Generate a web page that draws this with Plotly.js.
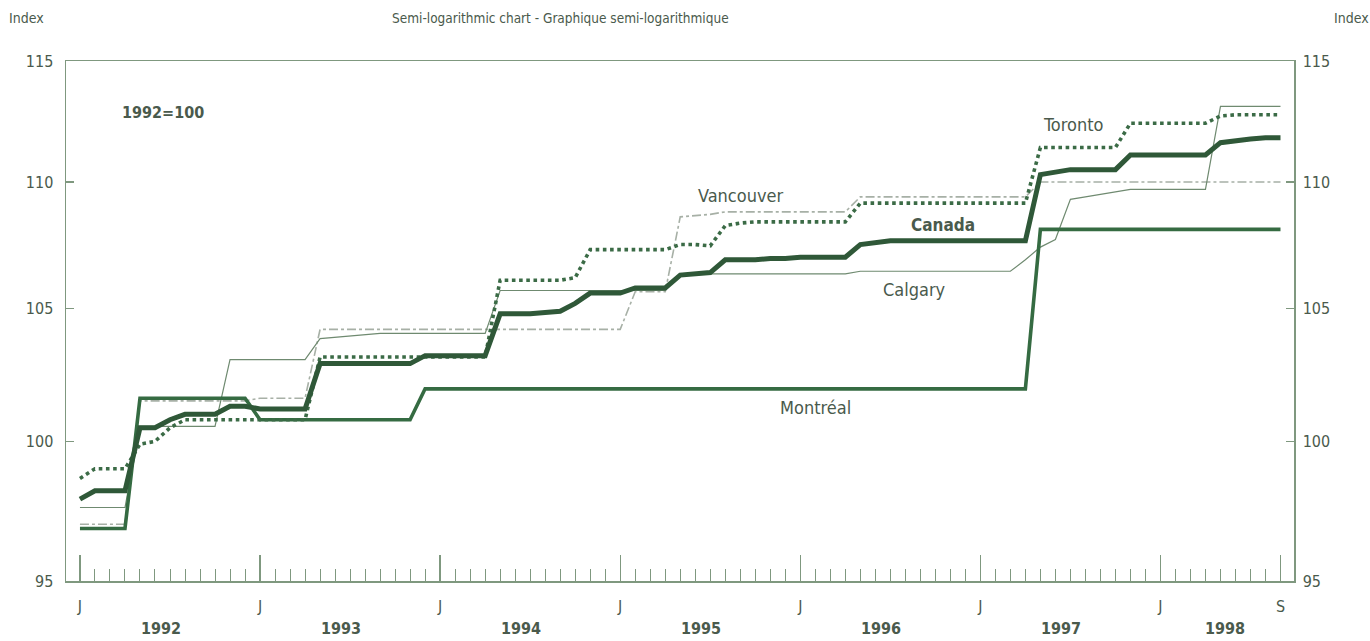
<!DOCTYPE html>
<html>
<head>
<meta charset="utf-8">
<script src="https://cdn.plot.ly/plotly-3.0.1.min.js"></script>
<style>
html,body{margin:0;padding:0;background:#fff;}
#chart{width:1370px;height:641px;}
</style>
</head>
<body>
<div id="chart"></div>
<script>
// Month index 0 = Jan 1992 ... 80 = Sep 1998
const nMonths = 81;

const canada = [
  97.9, 98.2, 98.2, 98.2, 100.5, 100.5, 100.8, 101.0, 101.0, 101.0, 101.3, 101.3,
  101.2, 101.2, 101.2, 101.2, 102.9, 102.9, 102.9, 102.9, 102.9, 102.9, 102.9, 103.2,
  103.2, 103.2, 103.2, 103.2, 104.8, 104.8, 104.8, 104.85, 104.9, 105.2, 105.6, 105.6,
  105.6, 105.8, 105.8, 105.8, 106.3, 106.35, 106.4, 106.9, 106.9, 106.9, 106.95, 106.95,
  107.0, 107.0, 107.0, 107.0, 107.5, 107.6, 107.65, 107.65, 107.65, 107.65, 107.65, 107.65,
  107.65, 107.65, 107.65, 107.65, 110.3, 110.4, 110.5, 110.5, 110.5, 110.5, 111.1, 111.1,
  111.1, 111.1, 111.1, 111.1, 111.6, 111.7, 111.75, 111.8, 111.8
];

const montreal = [
  96.85, 96.85, 96.85, 96.85, 101.6, 101.6, 101.6, 101.6, 101.6, 101.6, 101.6, 101.6,
  100.8, 100.8, 100.8, 100.8, 100.8, 100.8, 100.8, 100.8, 100.8, 100.8, 100.8, 101.95,
  101.95, 101.95, 101.95, 101.95, 101.95, 101.95, 101.95, 101.95, 101.95, 101.95, 101.95, 101.95,
  101.95, 101.95, 101.95, 101.95, 101.95, 101.95, 101.95, 101.95, 101.95, 101.95, 101.95, 101.95,
  101.95, 101.95, 101.95, 101.95, 101.95, 101.95, 101.95, 101.95, 101.95, 101.95, 101.95, 101.95,
  101.95, 101.95, 101.95, 101.95, 108.1, 108.1, 108.1, 108.1, 108.1, 108.1, 108.1, 108.1,
  108.1, 108.1, 108.1, 108.1, 108.1, 108.1, 108.1, 108.1, 108.1
];

const toronto = [
  98.65, 99.0, 99.0, 99.0, 99.9, 100.0, 100.5, 100.8, 100.8, 100.8, 100.8, 100.8,
  100.8, 100.8, 100.8, 100.8, 103.15, 103.15, 103.15, 103.15, 103.15, 103.15, 103.15, 103.15,
  103.15, 103.15, 103.15, 103.15, 106.1, 106.1, 106.1, 106.1, 106.1, 106.2, 107.3, 107.3,
  107.3, 107.3, 107.3, 107.3, 107.5, 107.5, 107.45, 108.25, 108.35, 108.4, 108.4, 108.4,
  108.4, 108.4, 108.4, 108.4, 109.15, 109.15, 109.15, 109.15, 109.15, 109.15, 109.15, 109.15,
  109.15, 109.15, 109.15, 109.15, 111.4, 111.4, 111.4, 111.4, 111.4, 111.4, 112.4, 112.4,
  112.4, 112.4, 112.4, 112.4, 112.7, 112.75, 112.75, 112.75, 112.75
];

const vancouver = [
  97.0, 97.0, 97.0, 97.0, 101.5, 101.5, 101.5, 101.5, 101.5, 101.5, 101.5, 101.5,
  101.6, 101.6, 101.6, 101.6, 104.2, 104.2, 104.2, 104.2, 104.2, 104.2, 104.2, 104.2,
  104.2, 104.2, 104.2, 104.2, 104.2, 104.2, 104.2, 104.2, 104.2, 104.2, 104.2, 104.2,
  104.2, 105.65, 105.65, 105.65, 108.6, 108.65, 108.7, 108.8, 108.8, 108.8, 108.8, 108.8,
  108.8, 108.8, 108.8, 108.8, 109.4, 109.4, 109.4, 109.4, 109.4, 109.4, 109.4, 109.4,
  109.4, 109.4, 109.4, 109.4, 110.0, 110.0, 110.0, 110.0, 110.0, 110.0, 110.0, 110.0,
  110.0, 110.0, 110.0, 110.0, 110.0, 110.0, 110.0, 110.0, 110.0
];

const calgary = [
  97.6, 97.6, 97.6, 97.6, 100.55, 100.55, 100.55, 100.55, 100.55, 100.55, 103.05, 103.05,
  103.05, 103.05, 103.05, 103.05, 103.85, 103.9, 103.95, 104.0, 104.05, 104.05, 104.05, 104.05,
  104.05, 104.05, 104.05, 104.05, 105.7, 105.7, 105.7, 105.7, 105.7, 105.7, 105.7, 105.7,
  105.7, 105.7, 105.7, 105.7, 106.35, 106.35, 106.35, 106.35, 106.35, 106.35, 106.35, 106.35,
  106.35, 106.35, 106.35, 106.35, 106.45, 106.45, 106.45, 106.45, 106.45, 106.45, 106.45, 106.45,
  106.45, 106.45, 106.45, 106.9, 107.4, 107.7, 109.3, 109.4, 109.5, 109.6, 109.7, 109.7,
  109.7, 109.7, 109.7, 109.7, 113.1, 113.1, 113.1, 113.1, 113.1
];

const xTickVals = [0, 12, 24, 36, 48, 60, 72, 80];
const xTickText = ['J', 'J', 'J', 'J', 'J', 'J', 'J', 'S'];
const yearLabels = ['1992', '1993', '1994', '1995', '1996', '1997', '1998'];
const yearCenters = [5.4, 17.4, 29.4, 41.4, 53.4, 65.4, 76.3];
const yTickVals = [95, 100, 105, 110, 115];

const months = [];
for (let i = 0; i < nMonths; i++) months.push(i);

const FONT = '"DejaVu Sans Condensed", "Liberation Sans Narrow", "Arial Narrow", sans-serif';
const TXT = '#4a5a4c';
const AXC = '#7f987f';
const DARK = '#2f5838';

function tr(y, color, width, dash, name) {
  return {x: months, y: y, type: 'scatter', mode: 'lines', name: name,
          line: {color: color, width: width, dash: dash, shape: 'linear'},
          hoverinfo: 'skip', showlegend: false};
}

const data = [
  tr(vancouver, '#a7b0a6', 1.6, 'dashdot', 'Vancouver'),
  tr(calgary, '#6f8a70', 1.2, 'solid', 'Calgary'),
  tr(montreal, '#356b42', 3.6, 'solid', 'Montréal'),
  tr(toronto, '#3b6b46', 3.6, 'dot', 'Toronto'),
  tr(canada, DARK, 5, 'solid', 'Canada')
];
data.push({x: [0], y: [100], yaxis: 'y2', type: 'scatter', mode: 'lines',
           line: {width: 0}, hoverinfo: 'skip', showlegend: false});

const annotations = [];
for (let i = 0; i < yearLabels.length; i++) {
  annotations.push({x: yearCenters[i], xref: 'x', y: -0.092, yref: 'paper',
    text: '<b>' + yearLabels[i] + '</b>', showarrow: false,
    font: {family: FONT, size: 16, color: TXT}, xanchor: 'center', yanchor: 'middle'});
}
function lab(text, px, py, size, bold) {
  annotations.push({x: (px - 66) / 1228, y: (581 - py) / 520, xref: 'paper', yref: 'paper',
    text: bold ? '<b>' + text + '</b>' : text, showarrow: false,
    font: {family: FONT, size: size, color: TXT}, xanchor: 'center', yanchor: 'middle'});
}
lab('Semi-logarithmic chart - Graphique semi-logarithmique', 560, 18, 13.5, false);
lab('Index', 26, 18, 14, false);
lab('Index', 1351, 18, 14, false);
lab('1992=100', 163, 113, 16, true);
lab('Toronto', 1073, 124, 18, false);
lab('Vancouver', 740, 196, 18, false);
lab('Canada', 943, 225, 17, true);
lab('Calgary', 914, 289, 18, false);
lab('Montréal', 815, 407, 18, false);

const yr = [Math.log10(95), Math.log10(115)];
const layout = {
  width: 1370, height: 641,
  margin: {l: 66, r: 76, t: 61, b: 60, pad: 0},
  paper_bgcolor: '#ffffff', plot_bgcolor: '#ffffff',
  showlegend: false,
  xaxis: {
    range: [-0.93, 80.9], showgrid: false, zeroline: false,
    showline: true, linecolor: AXC, linewidth: 1.5, mirror: true,
    tickmode: 'array', tickvals: xTickVals, ticktext: xTickText,
    ticks: 'inside', ticklen: 26, tickwidth: 1.3, tickcolor: AXC,
    ticklabelstandoff: 10,
    tickfont: {family: FONT, size: 16, color: TXT},
    minor: {tickmode: 'linear', tick0: 0, dtick: 1, ticks: 'inside', ticklen: 12, tickwidth: 1, tickcolor: AXC, showgrid: false}
  },
  yaxis: {
    type: 'log', range: yr, showgrid: false, zeroline: false,
    showline: true, linecolor: AXC, linewidth: 1.5,
    tickmode: 'array', tickvals: yTickVals, ticktext: yTickVals.map(String),
    ticks: 'inside', ticklen: 8, tickcolor: AXC, tickwidth: 1.2,
    ticklabelstandoff: 8,
    tickfont: {family: FONT, size: 16, color: TXT}
  },
  yaxis2: {
    type: 'log', range: yr, overlaying: 'y', side: 'right', showgrid: false, zeroline: false,
    showline: true, linecolor: AXC, linewidth: 1.5,
    tickmode: 'array', tickvals: yTickVals, ticktext: yTickVals.map(String),
    ticks: 'inside', ticklen: 8, tickcolor: AXC, tickwidth: 1.2,
    ticklabelstandoff: 4,
    tickfont: {family: FONT, size: 16, color: TXT}
  },
  annotations: annotations
};

Plotly.newPlot('chart', data, layout, {staticPlot: true, displayModeBar: false});
</script>
</body>
</html>
